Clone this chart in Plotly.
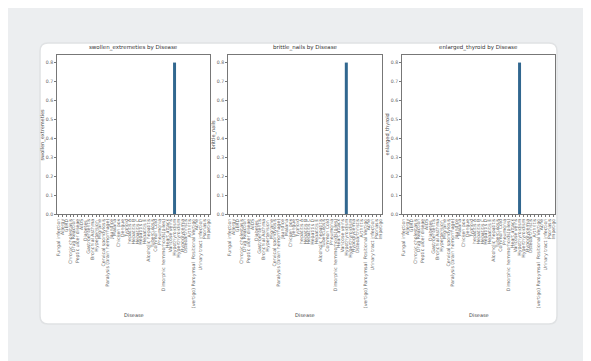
import plotly.graph_objects as go

diseases = [
    "Fungal infection", "Allergy", "GERD", "Chronic cholestasis", "Drug Reaction",
    "Peptic ulcer diseae", "AIDS", "Diabetes ", "Gastroenteritis", "Bronchial Asthma",
    "Hypertension ", "Migraine", "Cervical spondylosis", "Paralysis (brain hemorrhage)",
    "Jaundice", "Malaria", "Chicken pox", "Dengue", "Typhoid", "hepatitis A",
    "Hepatitis B", "Hepatitis C", "Hepatitis D", "Hepatitis E", "Alcoholic hepatitis",
    "Tuberculosis", "Common Cold", "Pneumonia", "Dimorphic hemmorhoids(piles)",
    "Heart attack", "Varicose veins", "Hypothyroidism", "Hyperthyroidism",
    "Hypoglycemia", "Osteoarthristis", "Arthritis",
    "(vertigo) Paroymsal  Positional Vertigo", "Acne", "Urinary tract infection",
    "Psoriasis", "Impetigo",
]
symptoms = ["swollen_extremeties", "brittle_nails", "enlarged_thyroid"]
swollen_extremeties = [0.8 if d == "Hypothyroidism" else 0 for d in diseases]
brittle_nails = [0.8 if d == "Hypothyroidism" else 0 for d in diseases]
enlarged_thyroid = [0.8 if d == "Hypothyroidism" else 0 for d in diseases]
series = [swollen_extremeties, brittle_nails, enlarged_thyroid]
y_ticks = [0.0, 0.1, 0.2, 0.3, 0.4, 0.5, 0.6, 0.7, 0.8]

W, H = 591, 361
OFF = 8  # page body margin offset


def px(v):
    return (v - OFF) / W


def py(v):
    return 1 - (v - OFF) / H


axes_px = [(57, 210), (228, 382), (402, 555)]
top_px, bot_px = 55, 214
TXT = "#4a4a4a"

fig = go.Figure()
layout = dict(
    width=W, height=H, margin=dict(l=0, r=0, t=0, b=0),
    paper_bgcolor="#eceef0", plot_bgcolor="white", showlegend=False,
    font=dict(family="DejaVu Sans", color=TXT),
)
annotations = []
for i, (sym, vals) in enumerate(zip(symptoms, series)):
    n = "" if i == 0 else str(i + 1)
    fig.add_trace(go.Bar(x=diseases, y=vals, xaxis="x" + n, yaxis="y" + n,
                         marker=dict(color="#31678f", line=dict(width=0)), width=0.8))
    x0, x1 = axes_px[i]
    dom_x = [px(x0), px(x1)]
    dom_y = [py(bot_px), py(top_px)]
    layout["xaxis" + n] = dict(
        domain=dom_x, anchor="y" + n, type="category", tickmode="array",
        tickvals=diseases, ticktext=diseases, tickangle=-90,
        tickfont=dict(size=4.7, color="#666"), showline=True, mirror=True,
        linecolor="#777", linewidth=0.8, ticks="outside", ticklen=2,
        tickcolor="#777", showgrid=False, automargin=False,
    )
    layout["yaxis" + n] = dict(
        domain=dom_y, anchor="x" + n, range=[0, 0.84], tickmode="array",
        tickvals=y_ticks, ticktext=[f"{v:.1f}" for v in y_ticks],
        tickfont=dict(size=4.6, color="#666"), showline=True, mirror=True,
        linecolor="#777", linewidth=0.8, ticks="outside", ticklen=2,
        tickcolor="#777", showgrid=False, zeroline=False, automargin=False,
    )
    cx = (dom_x[0] + dom_x[1]) / 2
    annotations.append(dict(text=f"{sym} by Disease", x=cx, y=py(53),
                            xanchor="center", yanchor="bottom",
                            xref="paper", yref="paper", showarrow=False,
                            font=dict(size=5.5, color="#333")))
    annotations.append(dict(text="Disease", x=cx, y=py(315),
                            xanchor="center", yanchor="middle",
                            xref="paper", yref="paper", showarrow=False,
                            font=dict(size=5, color="#444")))
    annotations.append(dict(text=sym, x=px(x0 - 15), y=(dom_y[0] + dom_y[1]) / 2,
                            xanchor="center", yanchor="middle",
                            xref="paper", yref="paper", showarrow=False, textangle=-90,
                            font=dict(size=5, color="#444")))
layout["annotations"] = annotations

# white card behind the figure
cx0, cx1, cy0, cy1 = px(40), px(557), py(324), py(43)
rx, ry = 8 / W, 8 / H
path = (f"M {cx0+rx},{cy1} L {cx1-rx},{cy1} Q {cx1},{cy1} {cx1},{cy1-ry} "
        f"L {cx1},{cy0+ry} Q {cx1},{cy0} {cx1-rx},{cy0} L {cx0+rx},{cy0} "
        f"Q {cx0},{cy0} {cx0},{cy0+ry} L {cx0},{cy1-ry} Q {cx0},{cy1} {cx0+rx},{cy1} Z")
layout["shapes"] = [
    dict(type="path", path=path, xref="paper", yref="paper", layer="below",
         fillcolor="white", line=dict(color="#e0e2e4", width=1.5)),
]
fig.update_layout(**layout)
fig.write_html("out.html")
